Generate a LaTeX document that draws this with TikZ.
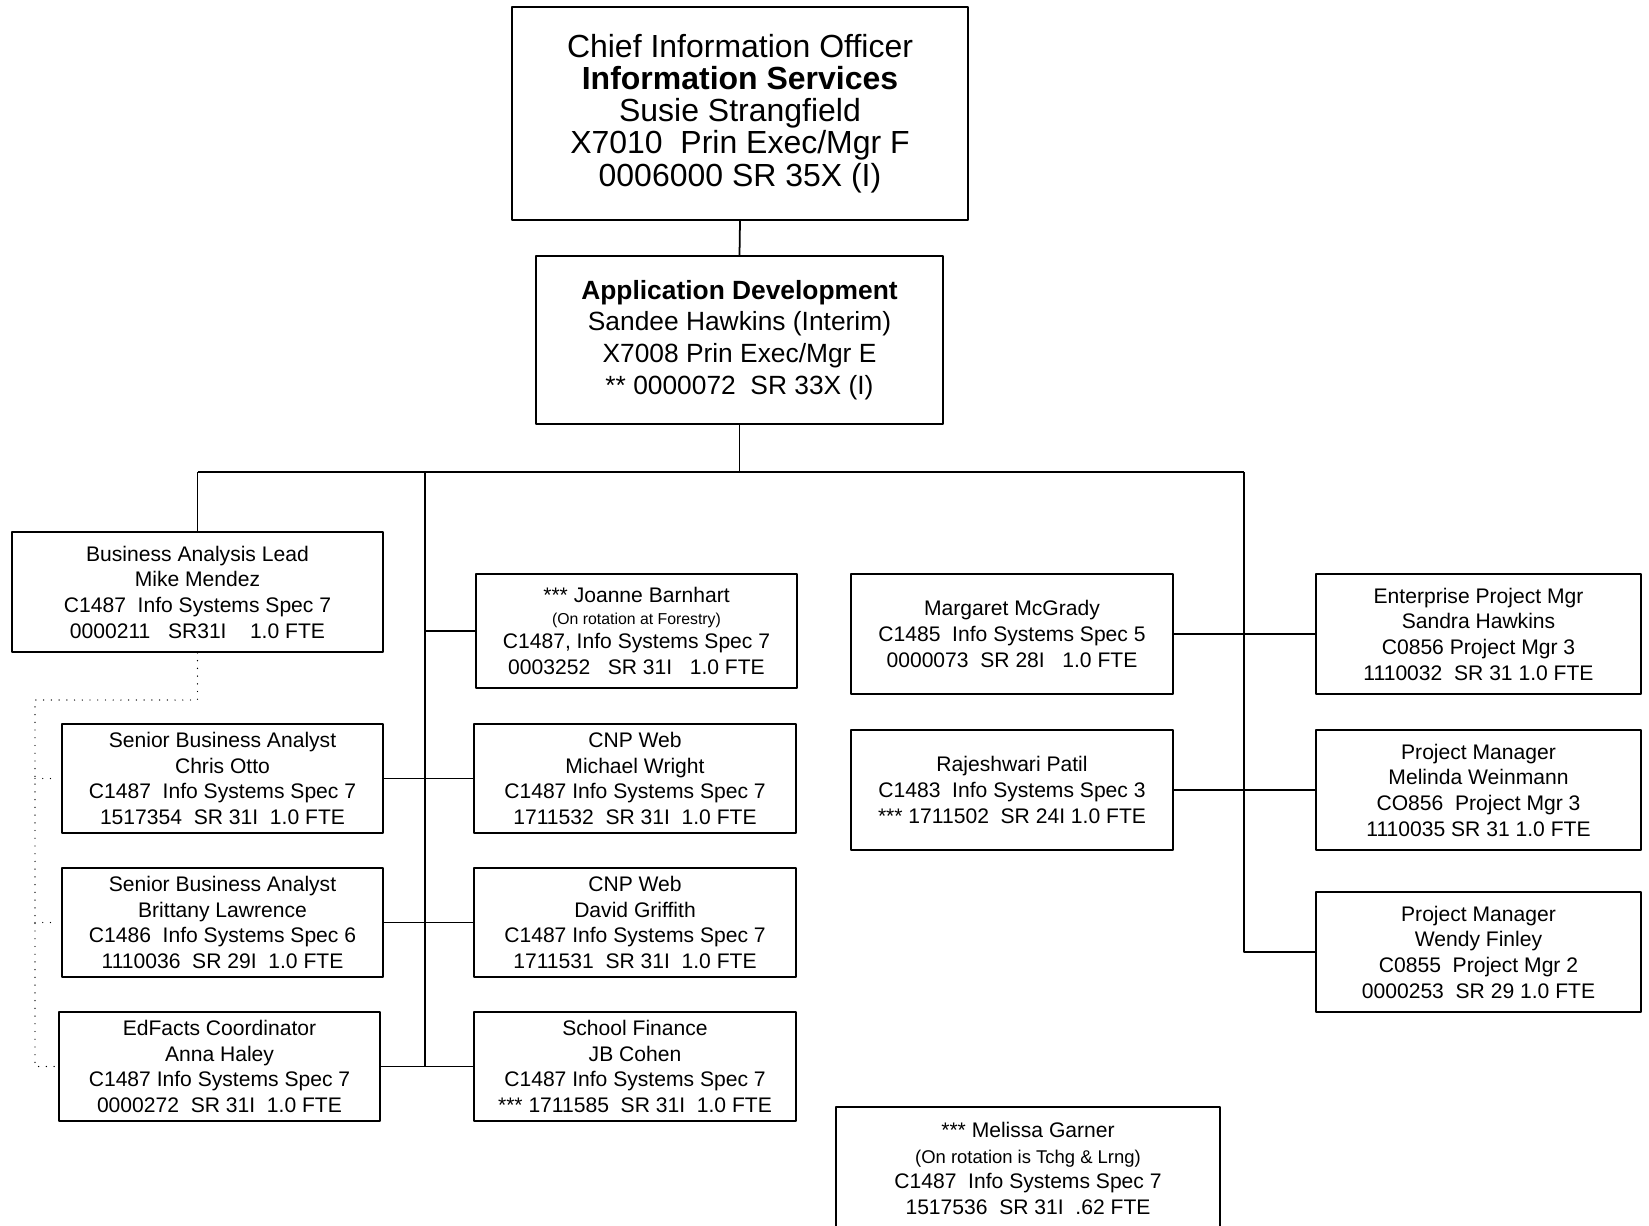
\documentclass[tikz,border=0pt]{standalone}
\usepackage{fontspec}
\setmainfont{Liberation Sans}
\newcommand{\rotnote}[2]{{\fontsize{#1}{#1}\selectfont #2}}

\begin{document}
\begin{tikzpicture}[x=0.02cm,y=-0.02cm,line join=round,
  wire/.style={line width=1pt},
  dotwire/.style={line width=0.8pt,line cap=round,dash pattern=on 0pt off 4.4pt},
  box/.style={draw,line width=1pt,align=center,inner sep=0pt,
    font=\fontsize{12}{14.6}\selectfont},
  topbox/.style={box,font=\fontsize{18.2}{18.3}\selectfont},
  headbox/.style={box,font=\fontsize{15}{18.1}\selectfont},
  leftbox/.style={box,minimum width=6.42cm,minimum height=2.18cm},
  midbox/.style={box,minimum width=6.44cm,minimum height=2.18cm},
  specbox/.style={box,minimum width=6.44cm,minimum height=2.40cm},
  pmbox/.style={box,minimum width=6.50cm,minimum height=2.40cm}]

  \useasboundingbox (0,0) rectangle (1649,1225);

  %% ---------------------------------------------------------------
  %% top of the chart
  %% ---------------------------------------------------------------
  \node[topbox,minimum width=9.12cm,minimum height=4.26cm] (cio) at (740,113.5)
    {Chief Information Officer\\\textbf{Information Services}\\Susie Strangfield\\
     X7010~~Prin Exec/Mgr F\\0006000 SR 35X (I)};
  \node[headbox,minimum width=8.14cm,minimum height=3.36cm] (appdev) at (739.5,340)
    {\textbf{Application Development}\\Sandee Hawkins (Interim)\\
     X7008 Prin Exec/Mgr E\\** 0000072~~SR 33X (I)};

  %% ---------------------------------------------------------------
  %% left column
  %% ---------------------------------------------------------------
  \node[box,minimum width=7.42cm,minimum height=2.40cm] (bal) at (197.5,592)
    {Business Analysis Lead\\Mike Mendez\\C1487~~Info Systems Spec 7\\
     0000211~~~SR31I~~~~1.0 FTE};
  \node[leftbox] (chris) at (222.5,778.5)
    {Senior Business Analyst\\Chris Otto\\C1487~~Info Systems Spec 7\\
     1517354~~SR 31I~~1.0 FTE};
  \node[leftbox] (brittany) at (222.5,922.5)
    {Senior Business Analyst\\Brittany Lawrence\\C1486~~Info Systems Spec 6\\
     1110036~~SR 29I~~1.0 FTE};
  \node[leftbox] (edfacts) at (219.5,1066.5)
    {EdFacts Coordinator\\Anna Haley\\C1487 Info Systems Spec 7\\
     0000272~~SR 31I~~1.0 FTE};

  %% ---------------------------------------------------------------
  %% middle column
  %% ---------------------------------------------------------------
  \node[box,minimum width=6.42cm,minimum height=2.28cm] (joanne) at (636.5,631)
    {*** Joanne Barnhart\\[-2pt]\rotnote{9}{(On rotation at Forestry)}\\[-1pt]
     C1487, Info Systems Spec 7\\0003252~~~SR 31I~~~1.0 FTE};
  \node[midbox] (michael) at (635,778.5)
    {CNP Web\\Michael Wright\\C1487 Info Systems Spec 7\\
     1711532~~SR 31I~~1.0 FTE};
  \node[midbox] (david) at (635,922.5)
    {CNP Web\\David Griffith\\C1487 Info Systems Spec 7\\
     1711531~~SR 31I~~1.0 FTE};
  \node[midbox] (school) at (635,1066.5)
    {School Finance\\JB Cohen\\C1487 Info Systems Spec 7\\
     *** 1711585~~SR 31I~~1.0 FTE};

  %% ---------------------------------------------------------------
  %% right columns
  %% ---------------------------------------------------------------
  \node[specbox] (margaret) at (1012,634)
    {Margaret McGrady\\C1485~~Info Systems Spec 5\\0000073~~SR 28I~~~1.0 FTE};
  \node[specbox] (rajeshwari) at (1012,790)
    {Rajeshwari Patil\\C1483~~Info Systems Spec 3\\*** 1711502~~SR 24I 1.0 FTE};
  \node[pmbox] (enterprise) at (1478.5,634)
    {Enterprise Project Mgr\\Sandra Hawkins\\C0856 Project Mgr 3\\
     1110032~~SR 31 1.0 FTE};
  \node[pmbox] (melinda) at (1478.5,790)
    {Project Manager\\Melinda Weinmann\\CO856~~Project Mgr 3\\
     1110035 SR 31 1.0 FTE};
  \node[pmbox] (wendy) at (1478.5,952)
    {Project Manager\\Wendy Finley\\C0855~~Project Mgr 2\\
     0000253~~SR 29 1.0 FTE};

  % loose box at the bottom, no line to it
  \node[box,minimum width=7.68cm,minimum height=2.46cm] (melissa) at (1028,1168.5)
    {*** Melissa Garner\\\rotnote{10.5}{(On rotation is Tchg \& Lrng)}\\
     C1487~~Info Systems Spec 7\\1517536~~SR 31I~~.62 FTE};

  %% ---------------------------------------------------------------
  %% reporting lines
  %% ---------------------------------------------------------------
  \coordinate (busW) at (197.5,472);
  \coordinate (busE) at (1244,472);
  \coordinate (trunk) at (425,472);
  \draw[wire] (cio.south) -- (appdev.north);
  \draw[wire] (appdev.south) -- (appdev.south |- busW);
  \draw[wire] (busW) -- (busE);
  \draw[wire] (bal.north) -- (busW);
  % left trunk
  \draw[wire] (trunk) -- (trunk |- school.west);
  \draw[wire] (joanne.west) -- (joanne.west -| trunk);
  \draw[wire] (chris.east) -- (michael.west);
  \draw[wire] (brittany.east) -- (david.west);
  \draw[wire] (edfacts.east) -- (school.west);
  % right trunk
  \draw[wire] (busE) |- (wendy.west);
  \draw[wire] (margaret.east) -- (enterprise.west);
  \draw[wire] (rajeshwari.east) -- (melinda.west);

  % dotted line from the lead to the analysts
  \coordinate (dotTop) at (35,700);
  \draw[dotwire] (bal.south) |- (dotTop) |- (edfacts.west);
  \draw[dotwire] (dotTop |- chris.west) -- ([xshift=-0.15cm]chris.west);
  \draw[dotwire] (dotTop |- brittany.west) -- ([xshift=-0.15cm]brittany.west);

\end{tikzpicture}
\end{document}
